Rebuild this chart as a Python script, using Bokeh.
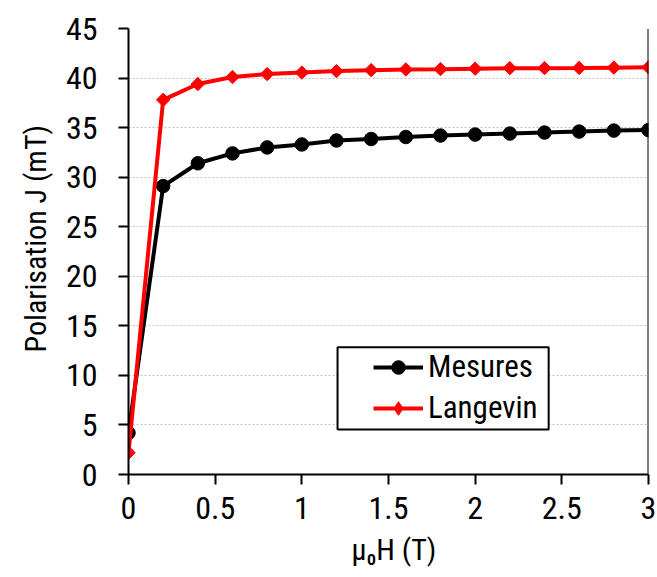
import numpy as np
from bokeh.plotting import figure
from bokeh.models import (Range1d, FixedTicker, NumeralTickFormatter, Legend,
                          LegendItem, Span, BoxAnnotation, Title)
from bokeh.embed import file_html
from bokeh.resources import INLINE

# ---- data ----
field_T = [0.0, 0.2, 0.4, 0.6, 0.8, 1.0, 1.2, 1.4, 1.6, 1.8, 2.0, 2.2, 2.4, 2.6, 2.8, 3.0]
mesures_mT = [4.2, 29.1, 31.4, 32.4, 33.0, 33.3, 33.7, 33.85, 34.05, 34.2, 34.3, 34.4, 34.5, 34.6, 34.7, 34.75]
langevin_mT = [2.2, 37.8, 39.4, 40.1, 40.4, 40.55, 40.7, 40.8, 40.87, 40.9, 40.95, 41.0, 41.0, 41.02, 41.05, 41.08]
series_names = ["Mesures", "Langevin"]
x_ticks = [0, 0.5, 1, 1.5, 2, 2.5, 3]
y_ticks = [0, 5, 10, 15, 20, 25, 30, 35, 40, 45]
x_label = "μ₀H (T)"
y_label = "Polarisation J (mT)"

FONT = "Roboto Condensed, Archivo Narrow, Liberation Sans, sans-serif"
FS = "32px"

p = figure(width=657, height=577, output_backend="svg", toolbar_location=None,
           x_range=Range1d(0, 3), y_range=Range1d(0, 45),
           min_border_left=128, min_border_top=28, min_border_right=9,
           min_border_bottom=103)
p.outline_line_color = None
p.background_fill_color = "white"

p.xgrid.grid_line_color = None
p.ygrid.grid_line_color = "#c0c0c0"
p.ygrid.grid_line_dash = "2 2"
p.ygrid.grid_line_width = 1
p.ygrid.ticker = FixedTicker(ticks=y_ticks)

for ax in (p.xaxis[0], p.yaxis[0]):
    ax.axis_line_width = 2
    ax.axis_line_color = "black"
    ax.major_tick_line_width = 2
    ax.major_tick_line_color = "black"
    ax.major_tick_out = 10
    ax.major_tick_in = 0
    ax.minor_tick_line_color = None
    ax.major_label_text_font = FONT
    ax.major_label_text_font_size = FS
    ax.major_label_text_color = "black"

p.xaxis[0].ticker = FixedTicker(ticks=x_ticks)
p.yaxis[0].ticker = FixedTicker(ticks=y_ticks)
p.xaxis[0].formatter = NumeralTickFormatter(format="0.[0]")
p.yaxis[0].formatter = NumeralTickFormatter(format="0")
p.xaxis[0].major_label_standoff = 12
p.yaxis[0].major_label_standoff = 21

# axis titles as side titles, positioned along the axis by an offset
p.add_layout(Title(text=x_label, align="left", offset=223, standoff=16,
                   text_font=FONT, text_font_size="30px",
                   text_font_style="normal", text_color="black"), "below")
p.add_layout(Title(text=y_label, align="left", offset=122, standoff=20,
                   text_font=FONT, text_font_size="30px",
                   text_font_style="normal", text_color="black"), "left")

p.add_layout(Span(location=3, dimension="height", line_color="black", line_width=2))

l1 = p.line(field_T, mesures_mT, line_color="black", line_width=4)
m1 = p.scatter(field_T, mesures_mT, marker="circle", size=13.5,
               fill_color="black", line_color="black")
l2 = p.line(field_T, langevin_mT, line_color="#ff0000", line_width=4)
m2 = p.scatter(field_T, langevin_mT, marker="square", angle=np.pi / 4, size=9.5,
               fill_color="#ff0000", line_color="#ff0000")
m2_key = p.scatter(field_T, langevin_mT, marker="diamond", size=14,
                   fill_color="#ff0000", line_color="#ff0000", visible=False)

box = BoxAnnotation(left=1.206, right=2.424, bottom=4.55, top=12.85,
                    fill_color="white", fill_alpha=1.0,
                    line_color="black", line_width=2, line_alpha=1.0)
p.add_layout(box)

legend = Legend(items=[LegendItem(label=series_names[0], renderers=[l1, m1]),
                       LegendItem(label=series_names[1], renderers=[l2, m2_key])],
                location=(245, 48), padding=0, margin=0, spacing=4,
                glyph_width=50, glyph_height=34, label_height=34,
                label_standoff=5,
                label_text_font=FONT, label_text_font_size="31px",
                label_text_color="black",
                inactive_fill_alpha=0,
                border_line_alpha=0, background_fill_alpha=0)
p.add_layout(legend)

open("out.html", "w").write(file_html(p, INLINE))
